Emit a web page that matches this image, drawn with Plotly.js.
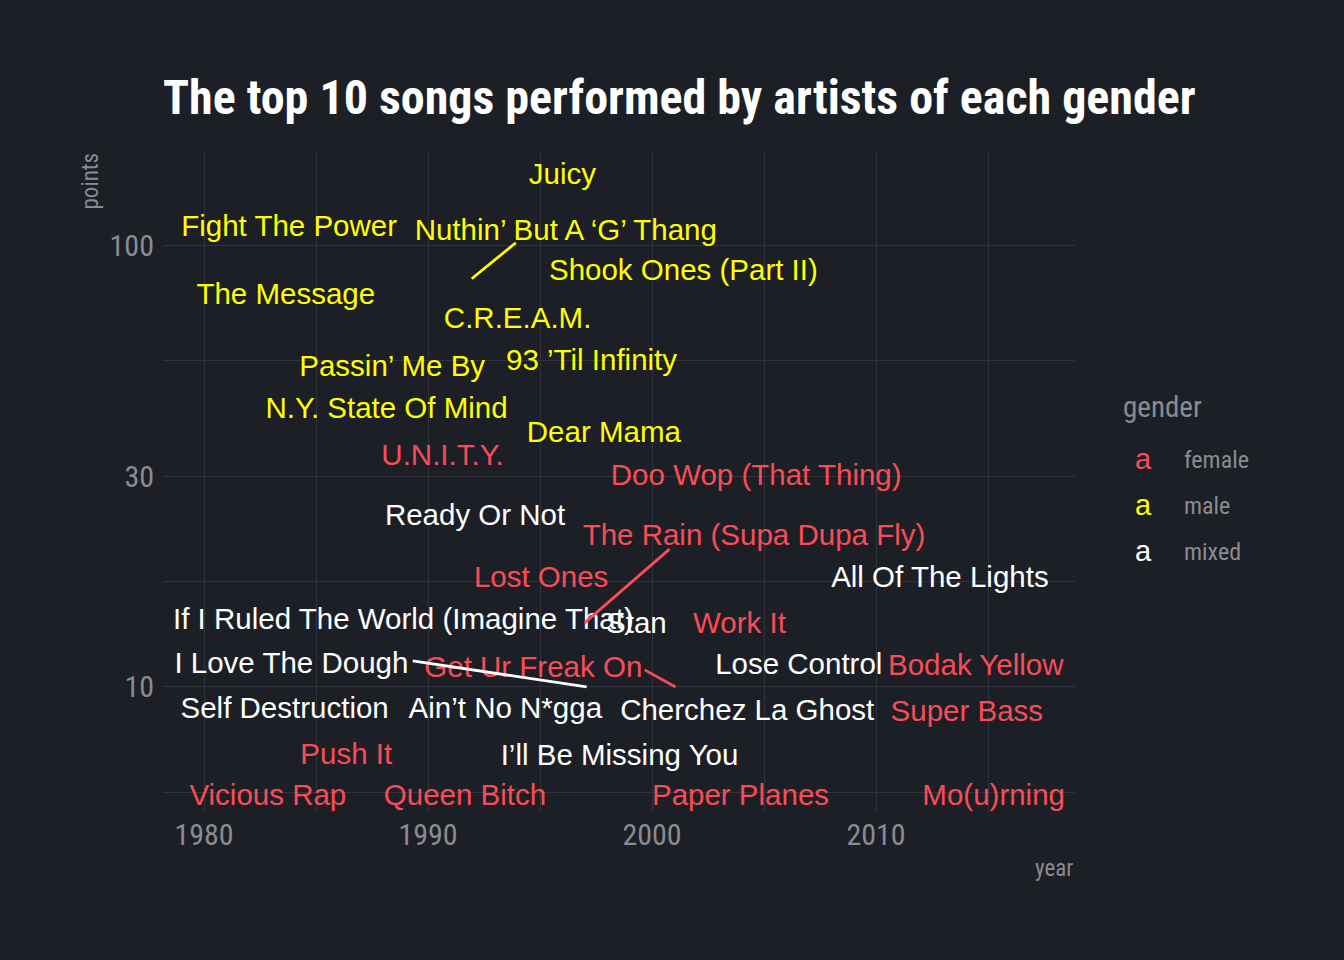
<!DOCTYPE html>
<html>
<head>
<meta charset="utf-8">
<script src="https://cdn.plot.ly/plotly-3.0.1.min.js"></script>
<style>
  html, body { margin: 0; padding: 0; background: #1d1f27; }
  #chart { width: 1344px; height: 960px; }
</style>
</head>
<body>
<div id="chart"></div>
<script>
// ---- data (label positions) ----
const songs = [
  "Juicy", "Fight The Power", "Nuthin’ But A ‘G’ Thang", "Shook Ones (Part II)", "The Message",
  "C.R.E.A.M.", "93 ’Til Infinity", "Passin’ Me By", "N.Y. State Of Mind", "Dear Mama",
  "U.N.I.T.Y.", "Doo Wop (That Thing)", "The Rain (Supa Dupa Fly)", "Lost Ones", "Work It",
  "Get Ur Freak On", "Bodak Yellow", "Super Bass", "Push It", "Vicious Rap",
  "Queen Bitch", "Paper Planes", "Mo(u)rning",
  "Ready Or Not", "All Of The Lights", "If I Ruled The World (Imagine That)", "Stan", "I Love The Dough",
  "Lose Control", "Self Destruction", "Ain’t No N*gga", "Cherchez La Ghost", "I’ll Be Missing You"
];
const gender = [
  "male","male","male","male","male","male","male","male","male","male",
  "female","female","female","female","female","female","female","female","female","female",
  "female","female","female",
  "mixed","mixed","mixed","mixed","mixed","mixed","mixed","mixed","mixed","mixed"
];
const year = [
  1996.0, 1983.8, 1996.15, 2001.4, 1983.65, 1994.0, 1997.3, 1988.4, 1988.15, 1997.85,
  1990.65, 2004.65, 2004.55, 1995.05, 2003.9, 1994.7, 2014.45, 2014.05, 1986.35, 1982.85,
  1991.65, 2003.95, 2015.25,
  1992.1, 2012.85, 1988.9, 1999.3, 1983.9, 2006.55, 1983.6, 1993.45, 2004.25, 1998.55
];
const points = [
  143.2, 108.7, 106.9, 86.4, 76.6, 67.6, 54.3, 52.4, 42.3, 37.2,
  33.0, 29.7, 21.8, 17.5, 13.74, 10.93, 11.03, 8.69, 6.94, 5.61,
  5.61, 5.61, 5.61,
  24.1, 17.5, 14.08, 13.74, 11.15, 11.10, 8.82, 8.82, 8.73, 6.91
];

// repel segments: from label edge to the song's actual (year, points)
const segSong = ["Nuthin’ But A ‘G’ Thang", "The Rain (Supa Dupa Fly)", "Get Ur Freak On", "I Love The Dough"];
const segGender = ["male", "female", "female", "mixed"];
const segFromYear = [1993.92, 2000.78, 1999.67, 1989.32];
const segFromPoints = [101.2, 20.5, 10.93, 11.45];
const segYear = [1991.95, 1996.99, 2001.05, 1997.08];
const segPoints = [83.9, 13.96, 10.0, 10.0];

const genders = ["female", "male", "mixed"];
const xTicks = [1980, 1990, 2000, 2010];
const xMinor = [1985, 1995, 2005, 2015];
const yTicks = [10, 30, 100];
const yMinor = [5.77, 17.32, 54.77];

// ---- styles ----
const colors = { female: "#f94c56", male: "#ffff00", mixed: "#ffffff" };
const BG = "#1d1f27";
const GRID = "#30333b";
const MUTED = "#8b8b91";
const COND = "Roboto Condensed, Roboto, sans-serif";
const LABEL = "Liberation Sans, Arial, sans-serif";

const traces = [];
genders.forEach(g => {
  const idx = gender.map((v, i) => v === g ? i : -1).filter(i => i >= 0);
  traces.push({
    type: "scatter", mode: "text",
    x: idx.map(i => year[i]), y: idx.map(i => points[i]),
    text: idx.map(i => songs[i]),
    textposition: "middle center",
    textfont: { family: LABEL, size: 29.5, color: colors[g] },
    hoverinfo: "skip", showlegend: false, cliponaxis: false
  });
});
segSong.forEach((s, i) => {
  traces.push({
    type: "scatter", mode: "lines",
    x: [segFromYear[i], segYear[i]], y: [segFromPoints[i], segPoints[i]],
    line: { color: colors[segGender[i]], width: 2.8 },
    hoverinfo: "skip", showlegend: false
  });
});

const W = 1344, H = 960;
const L = 163, R = 1075, T = 151, B = 813;
const pw = R - L, ph = B - T;
const px = v => (v - L) / pw;
const py = v => (B - v) / ph;

const annotations = [
  { text: "points", xref: "paper", yref: "paper", x: px(90), y: 1, xanchor: "center", yanchor: "top",
    textangle: -90, showarrow: false, font: { family: COND, size: 23, color: MUTED } },
  { text: "year", xref: "paper", yref: "paper", x: 1, y: py(868), xanchor: "right", yanchor: "middle",
    showarrow: false, font: { family: COND, size: 23, color: MUTED } },
  { text: "gender", xref: "paper", yref: "paper", x: px(1121), y: py(407), xanchor: "left", yanchor: "middle",
    showarrow: false, font: { family: COND, size: 29, color: MUTED } }
];
const legendY = [460, 506, 552];
genders.forEach((g, i) => {
  annotations.push({ text: "a", xref: "paper", yref: "paper", x: px(1143), y: py(legendY[i] - 1),
    xanchor: "center", yanchor: "middle", showarrow: false,
    font: { family: LABEL, size: 29, color: colors[g] } });
  annotations.push({ text: g, xref: "paper", yref: "paper", x: px(1182), y: py(legendY[i]),
    xanchor: "left", yanchor: "middle", showarrow: false,
    font: { family: COND, size: 24, color: MUTED } });
});

const layout = {
  width: W, height: H,
  paper_bgcolor: BG, plot_bgcolor: BG,
  margin: { l: L, r: W - R, t: T, b: H - B, pad: 0 },
  showlegend: false,
  title: {
    text: "<b>The top 10 songs performed by artists of each gender</b>",
    x: L / W, xref: "container", xanchor: "left",
    y: 1 - 97 / H, yref: "container", yanchor: "middle",
    font: { family: COND, size: 48, color: "#ffffff" }
  },
  xaxis: {
    range: [1978.17, 2018.88], tickvals: xTicks, ticktext: xTicks.map(String),
    showgrid: true, gridcolor: GRID, gridwidth: 1, zeroline: false, showline: false,
    ticks: "", ticklabelstandoff: 1,
    tickfont: { family: COND, size: 30, color: MUTED },
    minor: { tickvals: xMinor, showgrid: true, gridcolor: GRID, gridwidth: 1, ticks: "" }
  },
  yaxis: {
    type: "log", range: [0.7147, 2.2128], tickvals: yTicks, ticktext: yTicks.map(String),
    showgrid: true, gridcolor: GRID, gridwidth: 1, zeroline: false, showline: false,
    ticks: "", ticklabelstandoff: 8,
    tickfont: { family: COND, size: 30, color: MUTED },
    minor: { tickvals: yMinor, showgrid: true, gridcolor: GRID, gridwidth: 1, ticks: "" }
  },
  annotations: annotations
};

Plotly.newPlot("chart", traces, layout, { displayModeBar: false, staticPlot: true });
</script>
</body>
</html>
